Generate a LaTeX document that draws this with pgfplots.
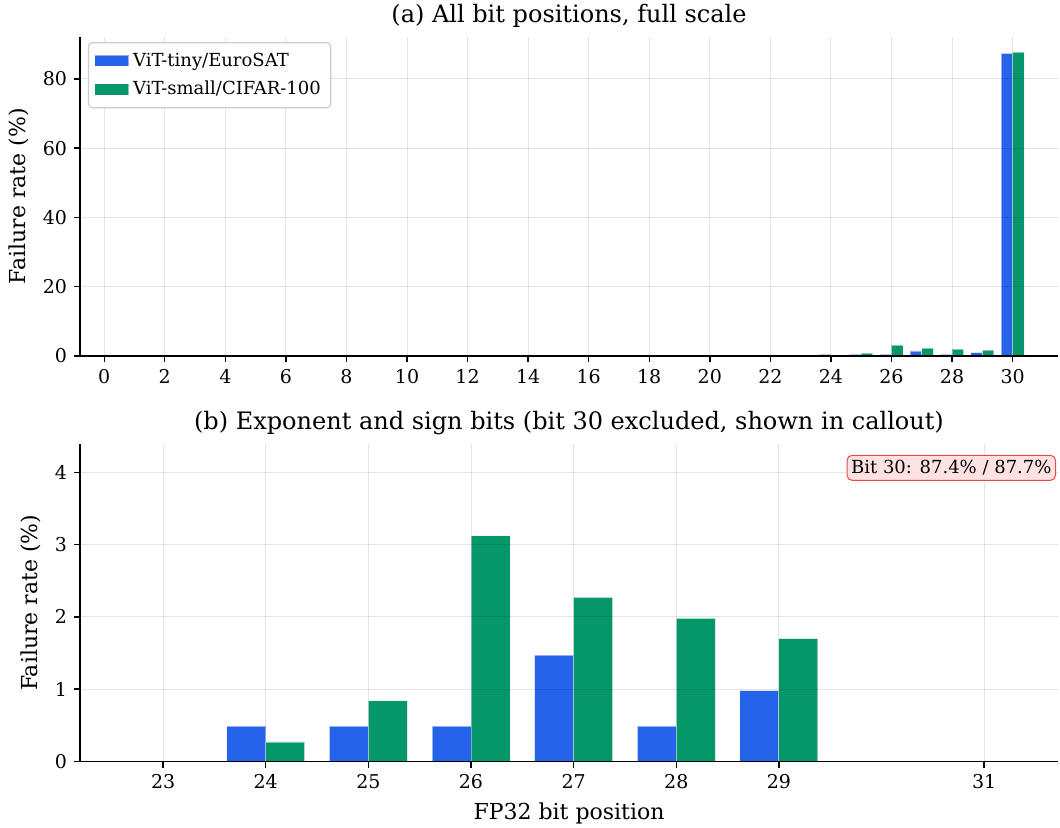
\documentclass[border=0pt]{standalone}
\usepackage{fontspec}
\setmainfont{DejaVu Serif}
\usepackage{pgfplots}
\pgfplotsset{compat=1.18}
\definecolor{blueC}{HTML}{2563EB}
\definecolor{greenC}{HTML}{059669}
\definecolor{calloutFill}{HTML}{FEE2E2}
\definecolor{calloutEdge}{HTML}{E5484D}
\pgfplotsset{
  myaxis/.style={
    scale only axis,
    width=489pt,
    axis on top,
    axis x line*=bottom, axis y line*=left,
    axis line style={-, line width=0.8pt},
    tick align=outside,
    major tick length=3pt,
    tick style={black, line width=0.7pt},
    grid=major,
    major grid style={black, opacity=0.1, line width=0.5pt},
    /pgf/number format/assume math mode=true,
    tick label style={font=\fontsize{9.5}{11}\selectfont},
    label style={font=\fontsize{11}{13}\selectfont},
    title style={font=\fontsize{12}{14}\selectfont, yshift=-5pt},
    ymin=0,
  },
  bluebar/.style={ybar, bar width=0.38, bar shift=-0.19, fill=blueC, draw=white, draw opacity=0.5, line width=0.4pt},
  greenbar/.style={ybar, bar width=0.38, bar shift=0.19, fill=greenC, draw=white, draw opacity=0.5, line width=0.4pt},
}
\begin{document}
\begin{tikzpicture}
\useasboundingbox (-40pt,18.5pt) rectangle (490pt,-395.5pt);
% top axis
\begin{axis}[myaxis,
  at={(0,0)}, anchor=north west,
  height=159.5pt,
  xmin=-0.8, xmax=31.5,
  ymax=92.1,
  xtick={0,2,...,30},
  ytick={0,20,40,60,80},
  ylabel={Failure rate (\%)},
  title={(a) All bit positions, full scale},
  legend style={at={(0.008,0.984)}, anchor=north west, draw=black!20, line width=0.6pt,
    rounded corners=2pt, font=\fontsize{9}{11}\selectfont, row sep=2pt,
    inner xsep=3pt, inner ysep=3pt},
  legend cell align=left,
  legend image code/.code={\fill[#1, sharp corners] (0pt,-2.8pt) rectangle (17pt,2.8pt);},
]
\addplot[bluebar]
  coordinates {(24,0.49) (25,0.49) (26,0.49) (27,1.47) (28,0.49) (29,0.98) (30,87.4)};
\addlegendentry{ViT-tiny/EuroSAT}
\addplot[greenbar]
  coordinates {(24,0.27) (25,0.84) (26,3.12) (27,2.27) (28,1.98) (29,1.70) (30,87.7)};
\addlegendentry{ViT-small/CIFAR-100}
\end{axis}
% bottom axis
\begin{axis}[myaxis,
  name=bot,
  at={(0,-203.5pt)}, anchor=north west,
  height=158.75pt,
  xmin=22.19, xmax=31.72,
  ymax=4.39,
  xtick={23,24,25,26,27,28,29,31},
  ytick={0,1,2,3,4},
  ylabel={Failure rate (\%)},
  xlabel={FP32 bit position},
  title={(b) Exponent and sign bits (bit 30 excluded, shown in callout)},
]
\addplot[bluebar]
  coordinates {(24,0.49) (25,0.49) (26,0.49) (27,1.47) (28,0.49) (29,0.98)};
\addplot[greenbar]
  coordinates {(24,0.27) (25,0.84) (26,3.12) (27,2.27) (28,1.98) (29,1.70)};
\end{axis}
\node[anchor=north east, draw=calloutEdge, fill=calloutFill, rounded corners=2.5pt,
  line width=0.5pt, inner xsep=2pt, inner ysep=2.5pt, font=\fontsize{9}{10.5}\selectfont]
  at ([xshift=-1pt,yshift=-5.4pt]bot.north east) {Bit 30: 87.4\% / 87.7\%};
\end{tikzpicture}
\end{document}
